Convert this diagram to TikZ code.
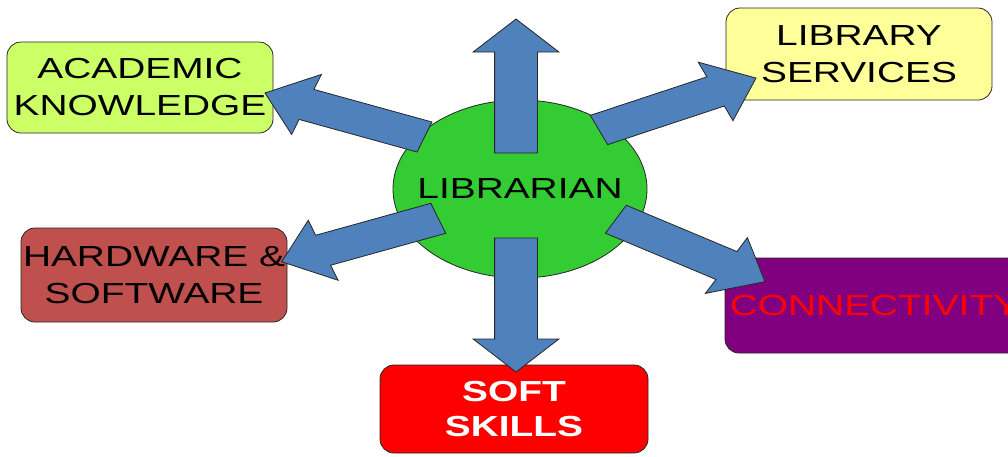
\documentclass[tikz,border=0pt]{standalone}
\usepackage{fontspec}
\usetikzlibrary{shapes.geometric}
\newfontfamily\wide{Liberation Sans}[FakeStretch=1.34]
\definecolor{arrowblue}{HTML}{4F81BD}
\definecolor{hubgreen}{HTML}{33CC33}
\definecolor{limefill}{HTML}{CCFF66}
\definecolor{paleyellow}{HTML}{FFFF99}
\definecolor{brickred}{HTML}{C0504D}
\definecolor{plum}{HTML}{800080}
\tikzset{
  topic/.style={draw=black!85, line width=0.8pt, rounded corners=14pt,
    align=center, inner sep=0pt, minimum width=266pt,
    font=\wide\fontsize{29}{37}\selectfont},
  hub/.style={ellipse, draw=black!85, line width=0.8pt, fill=hubgreen,
    minimum width=254pt, minimum height=178pt, inner sep=0pt},
  hublabel/.style={inner sep=0pt, font=\wide\fontsize{29}{35}\selectfont},
  blockarrowstyle/.style={fill=arrowblue, draw=black!85, line width=0.8pt,
    line join=miter}
}
% block arrow: base centre (#1,#2), direction #3 degrees, length #4
\newcommand{\hubarrow}[4]{%
  \draw[blockarrowstyle, shift={(#1,#2)}, rotate=#3]
    (0,-16) -- ({#4-33},-16) -- ({#4-33},-32) -- (#4,0)
    -- ({#4-33},32) -- ({#4-33},16) -- (0,16) -- cycle;}
\begin{document}
\begin{tikzpicture}[x=1pt,y=-1pt]
  \useasboundingbox (0,0) rectangle (1008,456);
  \clip (0,0) rectangle (1008,456);

  % central hub
  \node[hub] (librarian) at (520,189) {};
  \node[hublabel] (librariantext) at (librarian.center) {LIBRARIAN};

  % surrounding topics
  \node[topic, fill=limefill, minimum height=91pt] (academic) at (140,87.5)
    {ACADEMIC\\KNOWLEDGE};
  \node[topic, fill=paleyellow, minimum height=92pt] (library) at (859,54)
    {LIBRARY\\SERVICES};
  \node[topic, fill=brickred, minimum height=94pt] (hardware) at (154,275)
    {HARDWARE \&\\SOFTWARE};
  \node[topic, fill=plum, text=red, minimum width=299pt, minimum height=95pt]
    (connectivity) at (874.5,305.5) {CONNECTIVITY};
  \node[topic, fill=red, text=white, minimum width=268pt, minimum height=88pt,
    font=\wide\bfseries\fontsize{29}{35}\selectfont] (soft) at (514,409)
    {SOFT\\SKILLS};

  % block arrows from the hub to each topic (drawn in the unstretched frame)
  \begin{scope}[xscale=1.34]
    \hubarrow{385.1}{153}{90}{134}
    \hubarrow{385.1}{238}{-90}{134}
    \hubarrow{316.8}{137}{159.7}{126.9}
    \hubarrow{447.0}{130}{23.9}{128.2}
    \hubarrow{327.1}{218.3}{200.4}{124.7}
    \hubarrow{459.6}{219.2}{-29.3}{127.6}
  \end{scope}
\end{tikzpicture}
\end{document}
